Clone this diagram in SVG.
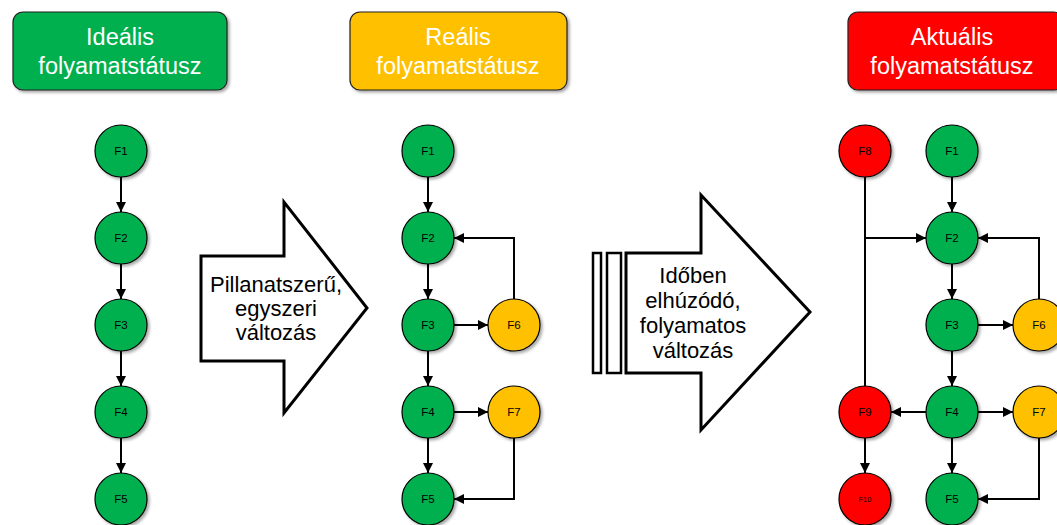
<svg xmlns="http://www.w3.org/2000/svg" width="1057" height="525" viewBox="0 0 1057 525">
<defs>
<marker id="ah" viewBox="0 0 10 10" refX="10" refY="5" markerWidth="5" markerHeight="5" orient="auto" markerUnits="strokeWidth">
<path d="M0,0 L10,5 L0,10 z" fill="#000"/>
</marker>
<filter id="sh" x="-20%" y="-20%" width="150%" height="150%">
<feDropShadow dx="2" dy="2" stdDeviation="1.5" flood-color="#000" flood-opacity="0.35"/>
</filter>
</defs>
<style>
.hdr{stroke:#222;stroke-width:1.2;filter:url(#sh)}
.ht{font-family:"Liberation Sans",Arial,sans-serif;font-size:23.5px;fill:#fff;text-anchor:middle}
.n{stroke:#000;stroke-width:1.2;filter:url(#sh)}
.g{fill:#00B050}.y{fill:#FFC000}.r{fill:#FF0000}
.nt{font-family:"Liberation Sans",Arial,sans-serif;font-size:11.5px;fill:#000;text-anchor:middle;dominant-baseline:central}
.c{fill:none;stroke:#000;stroke-width:2}
.ca{fill:none;stroke:#000;stroke-width:2;marker-end:url(#ah)}
.ba{fill:#fff;stroke:#000;stroke-width:3;stroke-linejoin:miter}
.at{font-family:"Liberation Sans",Arial,sans-serif;font-size:22px;fill:#000;text-anchor:middle}
</style>
<rect width="1057" height="525" fill="#fff"/>

<g id="hdr1"><rect class="hdr g" x="13" y="12" width="214" height="78" rx="10"/><text class="ht" x="120" y="45">Ideális</text><text class="ht" x="120" y="74">folyamatstátusz</text></g>
<g id="hdr2"><rect class="hdr y" x="350" y="12" width="217" height="78" rx="10"/><text class="ht" x="458" y="45">Reális</text><text class="ht" x="458" y="74">folyamatstátusz</text></g>
<g id="hdr3"><rect class="hdr r" x="848" y="12" width="216" height="78" rx="10"/><text class="ht" x="952" y="45">Aktuális</text><text class="ht" x="952" y="74">folyamatstátusz</text></g>

<g id="arrow1"><path class="ba" d="M201,256 L284,256 L284,202 L367,308 L284,413 L284,361 L201,361 Z"/>
<text class="at" x="276" y="292">Pillanatszerű,</text><text class="at" x="276" y="316">egyszeri</text><text class="at" x="276" y="340">változás</text></g>

<g id="arrow2"><rect x="593" y="253" width="8" height="120" fill="#fff" stroke="#000" stroke-width="2.5"/>
<rect x="607" y="253" width="14" height="120" fill="#fff" stroke="#000" stroke-width="2.5"/>
<path class="ba" d="M626,253 L701,253 L701,195 L810,312 L701,430 L701,373 L626,373 Z"/>
<text class="at" x="693" y="283">Időben</text><text class="at" x="693" y="308">elhúzódó,</text><text class="at" x="693" y="333">folyamatos</text><text class="at" x="693" y="358">változás</text></g>

<g id="connectors">
<path class="ca" d="M121,177 V212"/>
<path class="ca" d="M121,264 V299"/>
<path class="ca" d="M121,351 V386"/>
<path class="ca" d="M121,438 V473"/>

<path class="ca" d="M428,177 V212"/>
<path class="ca" d="M428,264 V299"/>
<path class="ca" d="M428,351 V386"/>
<path class="ca" d="M428,438 V473"/>
<path class="ca" d="M454,325 H488"/>
<path class="ca" d="M454,412 H488"/>
<path class="ca" d="M514,299 V238 H454"/>
<path class="ca" d="M514,438 V499 H454"/>

<path class="c" d="M865,177 V386"/>
<path class="ca" d="M865,238 H926"/>
<path class="ca" d="M952,177 V212"/>
<path class="ca" d="M952,264 V299"/>
<path class="ca" d="M952,351 V386"/>
<path class="ca" d="M952,438 V473"/>
<path class="ca" d="M978,325 H1013"/>
<path class="ca" d="M978,412 H1013"/>
<path class="ca" d="M926,412 H891"/>
<path class="ca" d="M865,438 V473"/>
<path class="ca" d="M1039,299 V238 H978"/>
<path class="ca" d="M1039,438 V499 H978"/>
</g>

<g id="i-F1"><circle class="n g" cx="121" cy="151" r="26"/><text class="nt" x="121" y="151">F1</text></g>
<g id="i-F2"><circle class="n g" cx="121" cy="238" r="26"/><text class="nt" x="121" y="238">F2</text></g>
<g id="i-F3"><circle class="n g" cx="121" cy="325" r="26"/><text class="nt" x="121" y="325">F3</text></g>
<g id="i-F4"><circle class="n g" cx="121" cy="412" r="26"/><text class="nt" x="121" y="412">F4</text></g>
<g id="i-F5"><circle class="n g" cx="121" cy="499" r="26"/><text class="nt" x="121" y="499">F5</text></g>

<g id="r-F1"><circle class="n g" cx="428" cy="151" r="26"/><text class="nt" x="428" y="151">F1</text></g>
<g id="r-F2"><circle class="n g" cx="428" cy="238" r="26"/><text class="nt" x="428" y="238">F2</text></g>
<g id="r-F3"><circle class="n g" cx="428" cy="325" r="26"/><text class="nt" x="428" y="325">F3</text></g>
<g id="r-F4"><circle class="n g" cx="428" cy="412" r="26"/><text class="nt" x="428" y="412">F4</text></g>
<g id="r-F5"><circle class="n g" cx="428" cy="499" r="26"/><text class="nt" x="428" y="499">F5</text></g>
<g id="r-F6"><circle class="n y" cx="514" cy="325" r="26"/><text class="nt" x="514" y="325">F6</text></g>
<g id="r-F7"><circle class="n y" cx="514" cy="412" r="26"/><text class="nt" x="514" y="412">F7</text></g>

<g id="a-F8"><circle class="n r" cx="865" cy="151" r="26"/><text class="nt" x="865" y="151">F8</text></g>
<g id="a-F1"><circle class="n g" cx="952" cy="151" r="26"/><text class="nt" x="952" y="151">F1</text></g>
<g id="a-F2"><circle class="n g" cx="952" cy="238" r="26"/><text class="nt" x="952" y="238">F2</text></g>
<g id="a-F3"><circle class="n g" cx="952" cy="325" r="26"/><text class="nt" x="952" y="325">F3</text></g>
<g id="a-F4"><circle class="n g" cx="952" cy="412" r="26"/><text class="nt" x="952" y="412">F4</text></g>
<g id="a-F5"><circle class="n g" cx="952" cy="499" r="26"/><text class="nt" x="952" y="499">F5</text></g>
<g id="a-F6"><circle class="n y" cx="1039" cy="325" r="26"/><text class="nt" x="1039" y="325">F6</text></g>
<g id="a-F7"><circle class="n y" cx="1039" cy="412" r="26"/><text class="nt" x="1039" y="412">F7</text></g>
<g id="a-F9"><circle class="n r" cx="865" cy="412" r="26"/><text class="nt" x="865" y="412">F9</text></g>
<g id="a-F10"><circle class="n r" cx="865" cy="499" r="26"/><text class="nt" x="865" y="499" style="font-size:7.5px">F10</text></g>
</svg>
